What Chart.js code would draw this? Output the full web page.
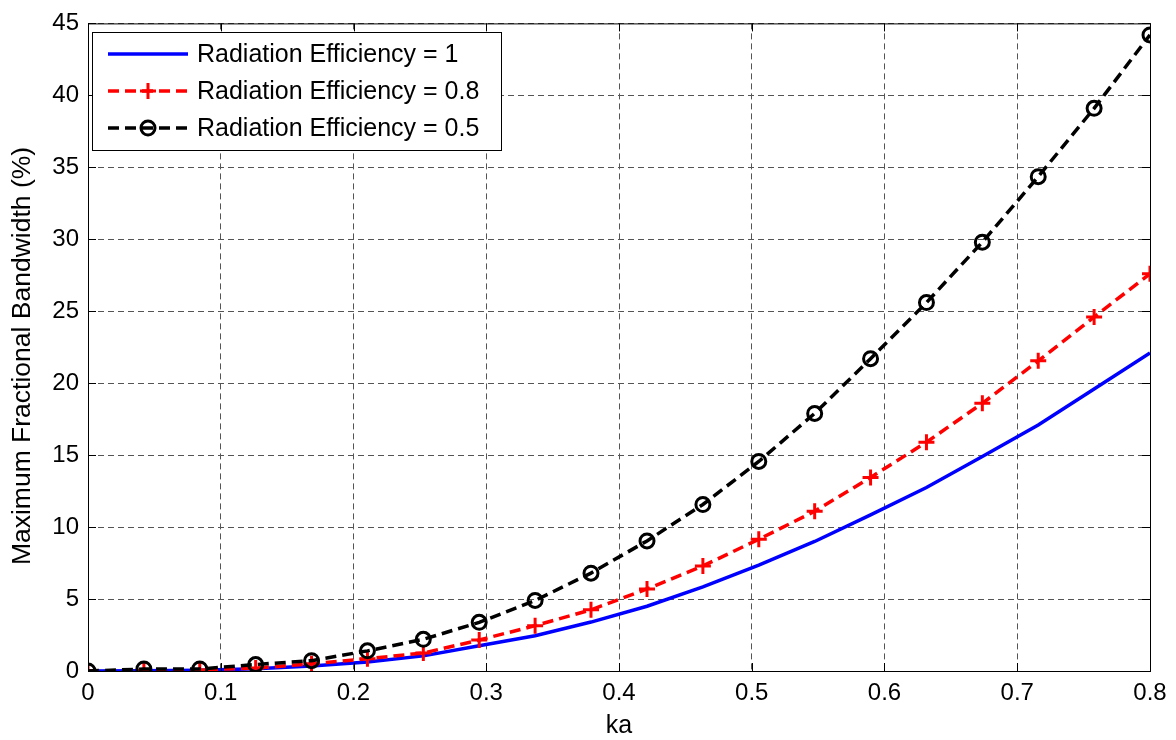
<!DOCTYPE html>
<html>
<head>
<meta charset="utf-8">
<script src="https://cdn.jsdelivr.net/npm/chart.js@4/dist/chart.umd.min.js"></script>
<style>
    body { margin: 0; background: #fff; }
    canvas { display: block; }
</style>
</head>
<body>
<canvas id="grafico" width="1176" height="740"></canvas>
<script>
// Dados
const ka = [0, 0.0421, 0.0842, 0.1263, 0.1684, 0.2105, 0.2526, 0.2947, 0.3368, 0.3789,
            0.4211, 0.4632, 0.5053, 0.5474, 0.5895, 0.6316, 0.6737, 0.7158, 0.7579, 0.8];
const eff1  = [0, 0.02, 0.06, 0.15, 0.35, 0.62, 1.05, 1.75, 2.45, 3.4,
               4.5, 5.85, 7.35, 9.0, 10.85, 12.75, 14.9, 17.1, 19.6, 22.1];
const eff08 = [0, 0.05, 0.08, 0.2, 0.5, 0.85, 1.25, 2.15, 3.15, 4.25,
               5.7, 7.3, 9.15, 11.1, 13.45, 15.9, 18.6, 21.55, 24.6, 27.6];
const eff05 = [0, 0.14, 0.14, 0.45, 0.72, 1.4, 2.2, 3.38, 4.9, 6.8,
               9.04, 11.57, 14.56, 17.9, 21.7, 25.6, 29.8, 34.35, 39.1, 44.2];
const labels = ['Radiation Efficiency = 1', 'Radiation Efficiency = 0.8', 'Radiation Efficiency = 0.5'];
const xTicks = [0, 0.1, 0.2, 0.3, 0.4, 0.5, 0.6, 0.7, 0.8];
const yTicks = [0, 5, 10, 15, 20, 25, 30, 35, 40, 45];
const yTitulo = 'Maximum Fractional Bandwidth (%)';

const FONTE = 'Liberation Sans, Arial, sans-serif';

function pares(ys) {
    return ka.map((x, i) => ({ x: x, y: ys[i] }));
}

// Moldura, marcas internas, título do eixo y e legenda (estilo MATLAB)
const molduraPlugin = {
    id: 'moldura',
    afterDraw(chart) {
        const ctx = chart.ctx;
        const a = chart.chartArea;
        const sx = chart.scales.x, sy = chart.scales.y;
        ctx.save();
        ctx.strokeStyle = '#000';
        ctx.lineWidth = 1;
        ctx.setLineDash([]);
        ctx.strokeRect(a.left + 0.5, a.top + 0.5, a.right - a.left, a.bottom - a.top);
        ctx.beginPath();
        xTicks.forEach(v => {
            const px = Math.round(sx.getPixelForValue(v)) + 0.5;
            ctx.moveTo(px, a.bottom); ctx.lineTo(px, a.bottom - 8);
            ctx.moveTo(px, a.top); ctx.lineTo(px, a.top + 8);
        });
        yTicks.forEach(v => {
            const py = Math.round(sy.getPixelForValue(v)) + 0.5;
            ctx.moveTo(a.left, py); ctx.lineTo(a.left + 8, py);
            ctx.moveTo(a.right, py); ctx.lineTo(a.right - 8, py);
        });
        ctx.stroke();

        // Título do eixo y
        ctx.save();
        ctx.translate(30, 356);
        ctx.rotate(-Math.PI / 2);
        ctx.fillStyle = '#000';
        ctx.font = '26.5px ' + FONTE;
        ctx.textAlign = 'center';
        ctx.textBaseline = 'alphabetic';
        ctx.fillText(yTitulo, 0, 0);
        ctx.restore();

        // Legenda
        const bx = 92, by = 32, bw = 409, bh = 118;
        ctx.fillStyle = '#fff';
        ctx.fillRect(bx, by, bw, bh);
        ctx.strokeRect(bx + 0.5, by + 0.5, bw, bh);
        const linhas = [54, 91, 128];
        const ds = chart.data.datasets;
        [0, 1, 2].forEach(i => {
            const d = ds[i];
            const y = linhas[i];
            ctx.strokeStyle = d.borderColor;
            ctx.lineWidth = d.borderWidth;
            ctx.setLineDash(d.borderDash || []);
            ctx.beginPath();
            ctx.moveTo(108, y); ctx.lineTo(188, y);
            ctx.stroke();
            ctx.setLineDash([]);
            if (d.pointRadius > 0) {
                ctx.lineWidth = d.pointBorderWidth;
                ctx.beginPath();
                if (d.pointStyle === 'circle') {
                    ctx.arc(148, y, d.pointRadius, 0, Math.PI * 2);
                } else {
                    ctx.moveTo(148 - d.pointRadius, y); ctx.lineTo(148 + d.pointRadius, y);
                    ctx.moveTo(148, y - d.pointRadius); ctx.lineTo(148, y + d.pointRadius);
                }
                ctx.stroke();
            }
            ctx.fillStyle = '#000';
            ctx.font = '25px ' + FONTE;
            ctx.textBaseline = 'middle';
            ctx.fillText(d.label, 197, y + 1);
        });
        ctx.restore();
    }
};

const ctx = document.getElementById('grafico').getContext('2d');
new Chart(ctx, {
    type: 'line',
    data: {
        datasets: [
            {
                label: labels[0], data: pares(eff1), order: 2,
                borderColor: '#0000ff', borderWidth: 3.5, pointRadius: 0,
                fill: false, tension: 0
            },
            {
                label: labels[1], data: pares(eff08), order: 1,
                borderColor: '#ff0000', borderWidth: 3.5, borderDash: [11, 6],
                pointStyle: 'cross', pointRadius: 8, pointBorderWidth: 3,
                pointBorderColor: '#ff0000', pointBackgroundColor: 'rgba(0,0,0,0)',
                fill: false, tension: 0
            },
            {
                label: labels[2], data: pares(eff05), order: 0,
                borderColor: '#000000', borderWidth: 3.5, borderDash: [11, 6],
                pointStyle: 'circle', pointRadius: 7, pointBorderWidth: 3,
                pointBorderColor: '#000000', pointBackgroundColor: 'rgba(0,0,0,0)',
                fill: false, tension: 0
            }
        ]
    },
    options: {
        responsive: false,
        animation: false,
        layout: { padding: { left: 0, top: 19, right: 26, bottom: 0 } },
        plugins: { legend: { display: false }, tooltip: { enabled: false } },
        scales: {
            x: {
                type: 'linear', min: 0, max: 0.8,
                afterFit: s => { s.height = 69; },
                afterBuildTicks: s => { s.ticks = xTicks.map(v => ({ value: v })); },
                ticks: {
                    color: '#000', padding: 8, maxRotation: 0,
                    font: { family: FONTE, size: 24 },
                    callback: v => String(Math.round(v * 10) / 10)
                },
                grid: { color: '#555', lineWidth: 1, drawTicks: false },
                border: { display: false, dash: [6, 4] },
                title: {
                    display: true, text: 'ka', color: '#000',
                    font: { family: FONTE, size: 25, lineHeight: 1 },
                    padding: { top: 0, bottom: 1 }
                }
            },
            y: {
                type: 'linear', min: 0, max: 45,
                afterFit: s => { s.width = 88; },
                afterBuildTicks: s => { s.ticks = yTicks.map(v => ({ value: v })); },
                ticks: {
                    color: '#000', padding: 9,
                    font: { family: FONTE, size: 24 }
                },
                grid: { color: '#555', lineWidth: 1, drawTicks: false },
                border: { display: false, dash: [6, 4] },
                title: { display: false }
            }
        }
    },
    plugins: [molduraPlugin]
});
</script>
</body>
</html>
